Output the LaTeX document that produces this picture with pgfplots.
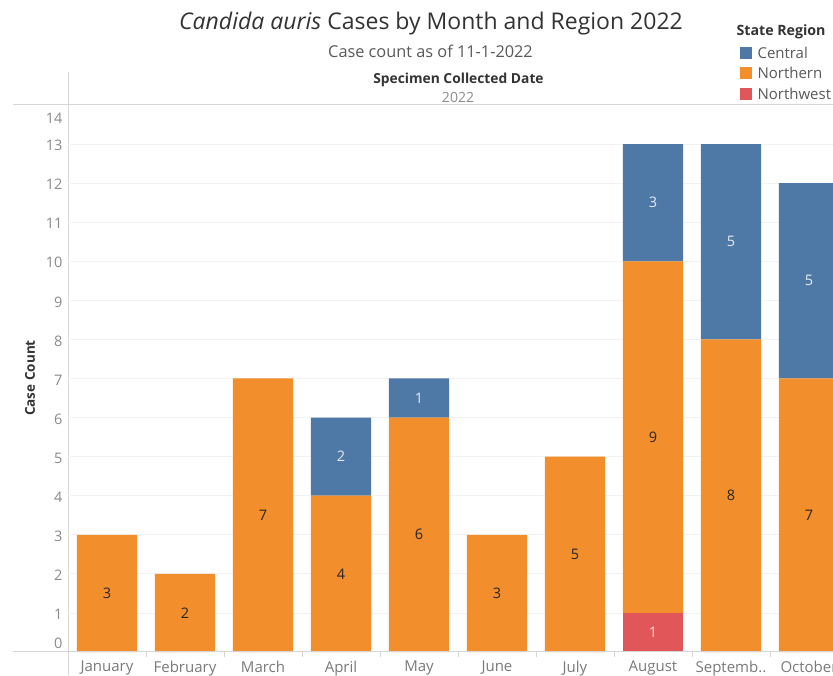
\documentclass[border=0pt]{standalone}
\usepackage{pgfplots}
\pgfplotsset{compat=1.18}
\usepackage{fontspec}
\setmainfont{Open Sans}
\definecolor{tabblue}{HTML}{4E79A7}
\definecolor{taborange}{HTML}{F28E2B}
\definecolor{tabred}{HTML}{E15759}
\definecolor{ticklab}{HTML}{8A8A8A}
\definecolor{monthlab}{HTML}{7A7A7A}
\definecolor{bordc}{HTML}{D6D6D6}
\definecolor{gridc}{HTML}{F2F2F2}
\definecolor{titlec}{HTML}{333333}
\begin{document}
\begin{tikzpicture}[x=1pt,y=1pt]
\useasboundingbox (0,0) rectangle (833,675);
\clip (0,0) rectangle (833,675);
\fill[white] (0,0) rectangle (833,675);
% pane borders
\draw[bordc, line width=1pt] (13,570) -- (833,570);
\draw[bordc, line width=1pt] (68,0) -- (68,603);
\begin{axis}[
  at={(68pt,23pt)}, anchor=south west,
  scale only axis, width=765pt, height=547pt,
  xmin=-0.5, xmax=9.308, ymin=0, ymax=14,
  ybar stacked, bar width=0.77,
  axis line style={draw=none},
  tick align=outside,
  xtick pos=bottom, ytick pos=left,
  major tick length=0pt,
  xtick={0,...,9},
  xticklabels={January,February,March,April,May,June,July,August,Septemb..,October},
  minor xtick={0.5,1.5,...,8.5},
  minor tick length=5pt,
  minor tick style={bordc, line width=0.8pt},
  ytick={1,...,13},
  extra y ticks={0.26,13.70},
  extra y tick labels={0,14},
  extra y tick style={grid=none},
  ymajorgrids,
  grid style={gridc, line width=0.8pt},
  yticklabel style={font=\fontsize{14.5}{14.5}\selectfont, text=ticklab, anchor=east, yshift=-1.5pt, xshift=-2pt},
  xticklabel style={font=\fontsize{15}{15}\selectfont, text=monthlab, anchor=north, yshift=-5.5pt},
  /pgf/number format/assume math mode=true,
]
\addplot[fill=tabred, draw=none] coordinates {(0,0)(1,0)(2,0)(3,0)(4,0)(5,0)(6,0)(7,1)(8,0)(9,0)};
\addplot[fill=taborange, draw=none] coordinates {(0,3)(1,2)(2,7)(3,4)(4,6)(5,3)(6,5)(7,9)(8,8)(9,7)};
\addplot[fill=tabblue, draw=none] coordinates {(0,0)(1,0)(2,0)(3,2)(4,1)(5,0)(6,0)(7,3)(8,5)(9,5)};
\end{axis}
\draw[bordc, line width=1pt] (13,23) -- (833,23);
\begin{axis}[
  at={(68pt,23pt)}, anchor=south west,
  scale only axis, width=765pt, height=547pt,
  xmin=-0.5, xmax=9.308, ymin=0, ymax=14,
  hide axis, clip=false,
  every node near coord/.append style={anchor=center, font=\fontsize{14.5}{14.5}\selectfont},
]
\addplot[only marks, mark=*, mark size=0pt, mark options={draw=none,fill=none},
  nodes near coords, point meta=explicit symbolic,
  every node near coord/.append style={text=black!85}]
  coordinates {(0,1.5)[3] (1,1)[2] (2,3.5)[7] (3,2)[4] (4,3)[6] (5,1.5)[3] (6,2.5)[5] (7,5.5)[9] (8,4)[8] (9,3.5)[7]};
\addplot[only marks, mark=*, mark size=0pt, mark options={draw=none,fill=none},
  nodes near coords, point meta=explicit symbolic,
  every node near coord/.append style={text=white!85!tabblue}]
  coordinates {(3,5)[2] (4,6.5)[1] (7,11.5)[3] (8,10.5)[5] (9,9.5)[5]};
\addplot[only marks, mark=*, mark size=0pt, mark options={draw=none,fill=none},
  nodes near coords, point meta=explicit symbolic,
  every node near coord/.append style={text=white!78!tabred}]
  coordinates {(7,0.5)[1]};
\end{axis}
% titles
\node[text=titlec, font=\fontsize{23}{23}\selectfont] at (431,651) {\textit{Candida auris} Cases by Month and Region 2022};
\node[text=black!65, font=\fontsize{16.3}{16.3}\selectfont] at (430.5,624) {Case count as of 11-1-2022};
\node[text=titlec, font=\bfseries\fontsize{13.8}{13.8}\selectfont] at (458.5,595) {Specimen Collected Date};
\node[text=black!45, font=\fontsize{14}{14}\selectfont] at (458,578) {2022};
% y label
\node[text=titlec, font=\bfseries\fontsize{13.5}{13.5}\selectfont, rotate=90] at (30,297) {Case Count};
% legend
\node[text=titlec, font=\bfseries\fontsize{14.2}{14.2}\selectfont, anchor=west] at (733,643) {State Region};
\fill[tabblue] (740,616) rectangle (752,628);
\fill[taborange] (740,596) rectangle (752,608);
\fill[tabred] (740,575) rectangle (752,587);
\node[text=black!65, font=\fontsize{15}{15}\selectfont, anchor=west] at (754,622) {Central};
\node[text=black!65, font=\fontsize{15}{15}\selectfont, anchor=west] at (754,602) {Northern};
\node[text=black!65, font=\fontsize{15}{15}\selectfont, anchor=west] at (754,581) {Northwest};
\end{tikzpicture}
\end{document}
